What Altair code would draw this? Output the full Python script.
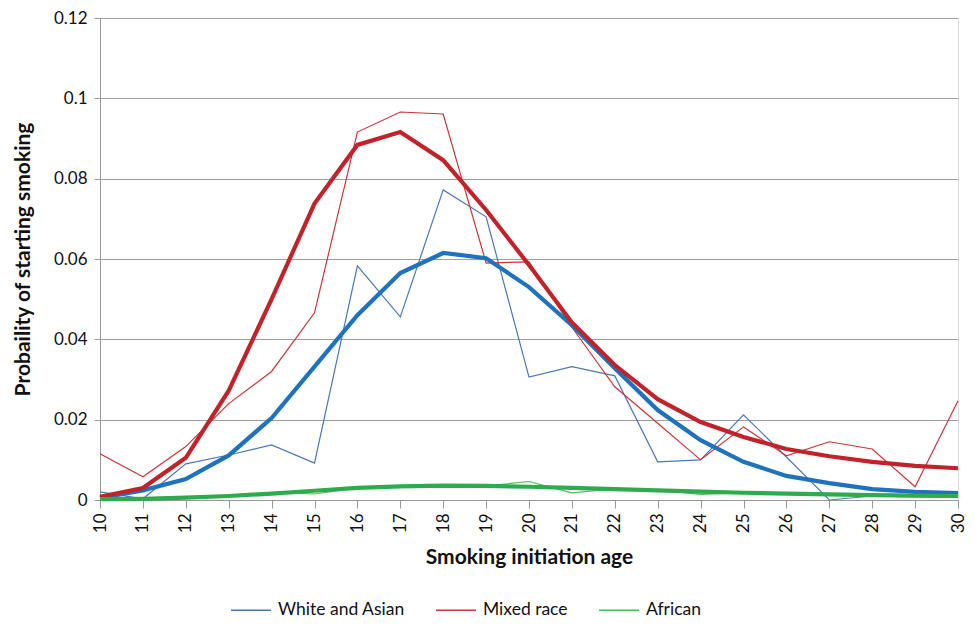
import altair as alt
import pandas as pd

ages = [10, 11, 12, 13, 14, 15, 16, 17, 18, 19, 20, 21, 22, 23, 24, 25, 26, 27, 28, 29, 30]
groups = ["White and Asian", "Mixed race", "African"]

white_obs = [0.002, 0.0003, 0.009, 0.0112, 0.0137, 0.0092, 0.0583, 0.0456, 0.0772, 0.0705, 0.0306,
             0.0332, 0.0309, 0.0095, 0.0100, 0.0212, 0.0107, 0.0, 0.001, 0.0012, 0.0015]
white_fit = [0.0005, 0.0024, 0.0052, 0.0111, 0.0204, 0.0332, 0.046, 0.0565, 0.0615, 0.0602, 0.053,
             0.0435, 0.0328, 0.0224, 0.0149, 0.0095, 0.006, 0.0042, 0.0027, 0.002, 0.0017]
mixed_obs = [0.0115, 0.0058, 0.0133, 0.024, 0.032, 0.0466, 0.0916, 0.0966, 0.0961, 0.059, 0.0593,
             0.043, 0.0282, 0.0191, 0.0100, 0.0182, 0.011, 0.0145, 0.0127, 0.0033, 0.0247]
mixed_fit = [0.0008, 0.003, 0.0105, 0.0272, 0.05, 0.0738, 0.0884, 0.0916, 0.0846, 0.0722, 0.0585,
             0.0442, 0.0336, 0.0251, 0.0194, 0.0157, 0.0127, 0.0109, 0.0095, 0.0085, 0.0079]
african_obs = [0.0005, 0.0003, 0.0005, 0.001, 0.0018, 0.0015, 0.003, 0.0035, 0.0038, 0.0035, 0.0046,
               0.0018, 0.0028, 0.0025, 0.0014, 0.0018, 0.0015, 0.0013, 0.001, 0.0008, 0.0007]
african_fit = [0.0002, 0.0003, 0.0006, 0.001, 0.0016, 0.0023, 0.003, 0.0034, 0.0036, 0.0035, 0.0033,
               0.003, 0.0027, 0.0024, 0.0021, 0.0018, 0.0016, 0.0014, 0.0012, 0.0011, 0.001]

y_ticks = [0, 0.02, 0.04, 0.06, 0.08, 0.1, 0.12]

thin_colors = ["#4a78b5", "#c9353a", "#4fb85a"]
thick_colors = ["#1f72bd", "#c0232a", "#2eab4c"]

rows = []
for g, obs, fit in [(groups[0], white_obs, white_fit), (groups[1], mixed_obs, mixed_fit),
                    (groups[2], african_obs, african_fit)]:
    for a, o, f in zip(ages, obs, fit):
        rows.append({"age": a, "group": g, "kind": "obs", "p": o})
        rows.append({"age": a, "group": g, "kind": "fit", "p": f})
df = pd.DataFrame(rows)

FONT = "Lato"

x_enc = alt.X("age:Q", scale=alt.Scale(domain=[10, 30], nice=False, zero=False),
              axis=alt.Axis(values=ages, labelAngle=270, title="Smoking initiation age", grid=False,
                            labelFontSize=17, labelColor="#111", labelPadding=5, tickSize=8,
                            tickColor="#999", domainColor="#999", titleFontSize=21,
                            titleFontWeight="bold", titlePadding=14, labelAlign="right",
                            labelBaseline="middle", titleColor="#111"))
y_enc = alt.Y("p:Q", scale=alt.Scale(domain=[0, 0.12], nice=False),
              axis=alt.Axis(values=y_ticks, format=".2~f", title="Probaility of starting smoking",
                            labelFontSize=17, labelColor="#111", labelPadding=7, tickSize=6,
                            tickColor="#999", domainColor="#999", gridColor="#a0a0a0",
                            gridWidth=1.2, titleFontSize=21, titleFontWeight="bold",
                            titlePadding=20, titleColor="#111"))

base = alt.Chart(df)

thin = base.transform_filter(alt.datum.kind == "obs").mark_line(strokeWidth=1.2).encode(
    x=x_enc, y=y_enc,
    color=alt.Color("group:N", scale=alt.Scale(domain=groups, range=thin_colors),
                    legend=alt.Legend(title=None, orient="none", legendX=130, legendY=571,
                                      direction="horizontal", symbolType="stroke",
                                      symbolSize=1600, symbolStrokeWidth=1.5,
                                      labelFontSize=17.5, labelColor="#111", columnPadding=28,
                                      labelOffset=6, labelFont=FONT)),
)

layers = [thin]
for g, c in zip(["White and Asian", "Mixed race", "African"], thick_colors):
    layers.append(
        base.transform_filter((alt.datum.kind == "fit") & (alt.datum.group == g))
        .mark_line(strokeWidth=4.2, color=c)
        .encode(x=x_enc, y=y_enc)
    )

chart = alt.layer(*layers).properties(
    width=858, height=482,
    autosize=alt.AutoSizeParams(type="none"),
    padding={"left": 92, "top": 10, "right": 9, "bottom": 120},
).configure_view(stroke=None).configure(font=FONT)

chart.save("out.html", embed_options={"renderer": "svg", "actions": False})
